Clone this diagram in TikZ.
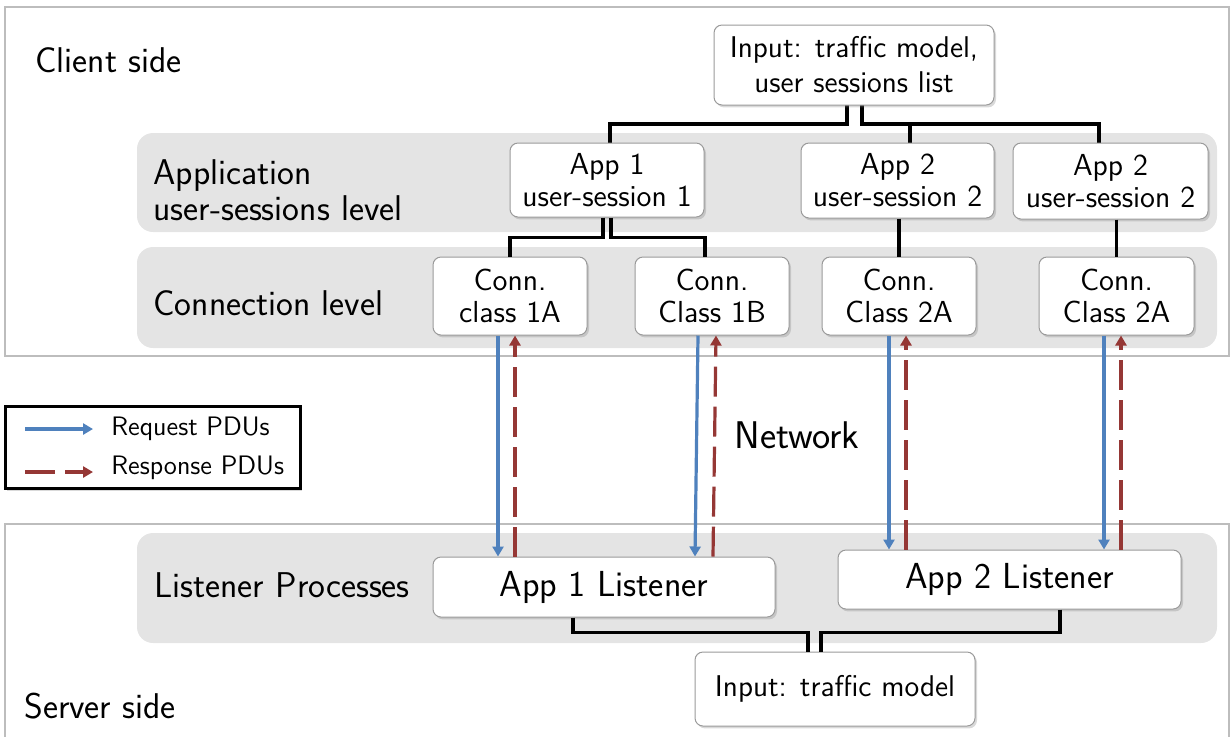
\documentclass[tikz,border=0pt]{standalone}
\usepackage{fontspec}
\usetikzlibrary{arrows.meta,shadows,calc}
\definecolor{bandgray}{HTML}{E4E4E4}
\definecolor{frameline}{HTML}{BDBDBD}
\definecolor{boxline}{HTML}{9A9A9A}
\definecolor{reqblue}{HTML}{4F81BD}
\definecolor{resred}{HTML}{953735}
\begin{document}
\begin{tikzpicture}[x=0.5pt,y=-0.5pt,
  biglabel/.style={inner sep=0pt, font=\sffamily\fontsize{17.9}{18}\selectfont},
  legtxt/.style={inner sep=0pt, font=\sffamily\fontsize{13.35}{15}\selectfont},
  box/.style={draw=boxline, line width=0.5pt, fill=white, rounded corners=4pt,
    inner sep=0pt, align=center, font=\sffamily\fontsize{15.2}{16}\selectfont,
    drop shadow={shadow xshift=1pt, shadow yshift=-1.2pt, opacity=0.3}},
  bigbox/.style={box, font=\sffamily\fontsize{18.1}{19}\selectfont},
  band/.style={fill=bandgray, rounded corners=8pt},
  frame/.style={draw=frameline, line width=0.7pt},
  link/.style={draw=black, line width=1.7pt},
  req/.style={draw=reqblue, line width=1.6pt, -{Triangle[length=5pt,width=5.5pt]}},
  res/.style={draw=resred, line width=1.6pt, dash pattern=on 15pt off 5pt,
    -{Triangle[length=5pt,width=5.5pt]}},
]
\useasboundingbox (0,0) rectangle (1231,736);
\clip (0,0) rectangle (1231,736);

% side frames
\draw[frame] (5,7) rectangle (1229,356);
\draw[frame] (5,524) rectangle (1229,760);

% level bands
\fill[band] (137,133) rectangle (1217,232);
\fill[band] (137,247) rectangle (1217,348);
\fill[band] (137,533) rectangle (1217,643);

% labels
\node[biglabel, anchor=base west] (client) at (35,72) {Client side};
\node[biglabel, anchor=west, align=left] (applvl) at (153,190) {Application\\user-sessions level};
\node[biglabel, anchor=base west] (connlvl) at (153,315) {Connection level};
\node[biglabel, anchor=base west] (lstlvl) at (154,597) {Listener Processes};
\node[biglabel, anchor=base west] (server) at (24,718) {Server side};
\node[biglabel, anchor=base, font=\sffamily\fontsize{19.3}{20}\selectfont] (net) at (797,448) {Network};

% tree connectors from the client input (boxes cover their ends)
\coordinate (in1s) at (854,105);
\draw[link] ([xshift=-3.5pt]in1s) -- ++(0,19) -| (610,143);
\draw[link] ([xshift=4pt]in1s) -- ++(0,19) -| (1099,143);
\draw[link] (910,124) -- (910,143);

% client boxes
\node[box, minimum width=140pt, minimum height=40pt, font=\sffamily\fontsize{15}{17.5}\selectfont] (in1) at (854,65) {Input: traffic model,\\user sessions list};
\node[box, minimum width=97pt, minimum height=37pt] (a1) at (607,180) {App 1\\user-session 1};
\node[box, minimum width=96.5pt, minimum height=37.5pt] (a2) at (897.5,180.5) {App 2\\user-session 2};
\node[box, minimum width=97.5pt, minimum height=38pt] (a3) at (1110.5,181) {App 2\\user-session 2};

\node[box, minimum width=77pt, minimum height=39pt] (c1) at (510,296) {Conn.\\class 1A};
\node[box, minimum width=77pt, minimum height=39pt] (c2) at (712,296) {Conn.\\Class 1B};
\node[box, minimum width=77pt, minimum height=39pt] (c3) at (899,296) {Conn.\\Class 2A};
\node[box, minimum width=77.5pt, minimum height=39pt] (c4) at (1116.5,296) {Conn.\\Class 2A};

% application to connection links
\draw[link] ([xshift=-2pt]a1.south) -- ++(0,20) -| (c1.north);
\draw[link] ([xshift=2pt]a1.south) -- ++(0,20) -| ([xshift=-3.5pt]c2.north);
\draw[link] (c3.north |- a2.south) -- (c3.north);
\draw[link] (c4.north |- a3.south) -- (c4.north);

% server boxes
\node[bigbox, minimum width=171pt, minimum height=30pt] (l1) at (604,587) {App 1 Listener};
\node[bigbox, minimum width=171.5pt, minimum height=29.5pt] (l2) at (1009.5,579.5) {App 2 Listener};
\node[box, minimum width=140pt, minimum height=37pt, font=\sffamily\fontsize{15}{17}\selectfont] (in2) at (835,689) {Input: traffic model};

\draw[link] ([xshift=-15.5pt]l1.south) -- ++(0,15) -| ([xshift=-13.5pt]in2.north);
\draw[link] ([xshift=25.25pt]l2.south) -- ++(0,23) -| ([xshift=-7pt]in2.north);

% request / response PDUs across the network
\draw[req] ([xshift=-6pt]c1.south) -- ([xshift=-6pt]c1.south |- l1.north);
\draw[res] ([xshift=2.5pt]c1.south |- l1.north) -- ([xshift=2.5pt]c1.south);
\draw[req] ([xshift=-7pt]c2.south) -- ([xshift=-8.5pt]c2.south |- l1.north);
\draw[res] ([xshift=0.5pt]c2.south |- l1.north) -- ([xshift=2pt]c2.south);
\draw[req] ([xshift=-5pt]c3.south) -- ([xshift=-5pt]c3.south |- l2.north);
\draw[res] ([xshift=3.5pt]c3.south |- l2.north) -- ([xshift=3.5pt]c3.south);
\draw[req] ([xshift=-6.25pt]c4.south) -- ([xshift=-6.25pt]c4.south |- l2.north);
\draw[res] ([xshift=2.25pt]c4.south |- l2.north) -- ([xshift=2.25pt]c4.south);

% legend
\node[draw=black, line width=1.5pt, fill=white, minimum width=147.5pt, minimum height=41pt,
  inner sep=0pt, drop shadow={shadow xshift=1.2pt, shadow yshift=-1.5pt, opacity=0.3}] (legend) at (152.5,447) {};
\coordinate (rq0) at (25,429);
\coordinate (rq1) at (93,429);
\coordinate (rs0) at (25,472);
\coordinate (rs1) at (93,472);
\draw[req] (rq0) -- (rq1);
\draw[res] (rs0) -- (rs1);
\node[legtxt, anchor=base west] (rqtxt) at (111,435) {Request PDUs};
\node[legtxt, anchor=base west] (rstxt) at (111,474) {Response PDUs};
\end{tikzpicture}
\end{document}
